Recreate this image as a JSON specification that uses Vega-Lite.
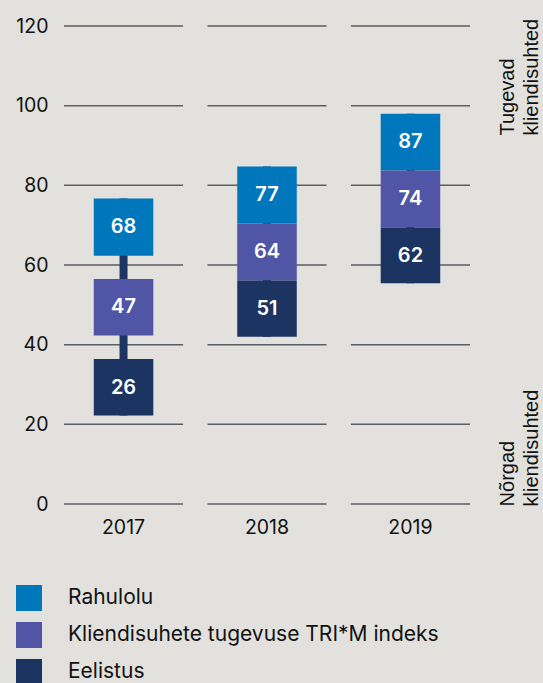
{
  "$schema": "https://vega.github.io/schema/vega-lite/v6.json",
  "autosize": "none",
  "width": 406,
  "height": 478,
  "padding": {"left": 64, "top": 26, "right": 73, "bottom": 179},
  "background": "#e2e1dd",
  "config": {
    "view": {"stroke": null},
    "font": "Inter",
    "axis": {"labelFont": "Inter", "labelFontSize": 19.5, "labelColor": "#111111", "domain": false, "ticks": false, "grid": false, "title": null}
  },
  "datasets": {
    "boxes": [
      {"year": "2017", "series": "Rahulolu", "value": 68, "lo": 62.3, "hi": 76.7},
      {"year": "2017", "series": "Kliendisuhete tugevuse TRI*M indeks", "value": 47, "lo": 42.3, "hi": 56.5},
      {"year": "2017", "series": "Eelistus", "value": 26, "lo": 22.2, "hi": 36.4},
      {"year": "2018", "series": "Rahulolu", "value": 77, "lo": 70.4, "hi": 84.7},
      {"year": "2018", "series": "Kliendisuhete tugevuse TRI*M indeks", "value": 64, "lo": 56.1, "hi": 70.4},
      {"year": "2018", "series": "Eelistus", "value": 51, "lo": 42.0, "hi": 56.1},
      {"year": "2019", "series": "Rahulolu", "value": 87, "lo": 83.7, "hi": 98.0},
      {"year": "2019", "series": "Kliendisuhete tugevuse TRI*M indeks", "value": 74, "lo": 69.4, "hi": 83.7},
      {"year": "2019", "series": "Eelistus", "value": 62, "lo": 55.4, "hi": 69.4}
    ],
    "grid": [
      {"year": "2017", "g": 0}, {"year": "2017", "g": 20}, {"year": "2017", "g": 40}, {"year": "2017", "g": 60}, {"year": "2017", "g": 80}, {"year": "2017", "g": 100}, {"year": "2017", "g": 120},
      {"year": "2018", "g": 0}, {"year": "2018", "g": 20}, {"year": "2018", "g": 40}, {"year": "2018", "g": 60}, {"year": "2018", "g": 80}, {"year": "2018", "g": 100}, {"year": "2018", "g": 120},
      {"year": "2019", "g": 0}, {"year": "2019", "g": 20}, {"year": "2019", "g": 40}, {"year": "2019", "g": 60}, {"year": "2019", "g": 80}, {"year": "2019", "g": 100}, {"year": "2019", "g": 120}
    ],
    "side": [
      {"year": "2019", "pos": 92.5, "label": ["Tugevad", "kliendisuhted"]},
      {"year": "2019", "pos": -0.6, "label": ["Nõrgad", "kliendisuhted"]}
    ]
  },
  "encoding": {
    "x": {"field": "year", "type": "ordinal", "scale": {"paddingInner": 0.17, "paddingOuter": 0}, "axis": {"labelAngle": 0, "labelPadding": 14}},
    "y": {"type": "quantitative", "scale": {"domain": [0, 120], "nice": false}, "axis": {"values": [0, 20, 40, 60, 80, 100, 120], "labelPadding": 16}}
  },
  "layer": [
    {
      "data": {"name": "grid"},
      "mark": {"type": "bar", "fill": null, "stroke": "#5a5e65", "strokeWidth": 1.5},
      "encoding": {
        "y": {"field": "g", "type": "quantitative"},
        "y2": {"field": "g"}
      }
    },
    {
      "data": {"name": "boxes"},
      "transform": [{"aggregate": [{"op": "min", "field": "lo", "as": "ymin"}, {"op": "max", "field": "hi", "as": "ymax"}], "groupby": ["year"]}],
      "mark": {"type": "rule", "color": "#1b3461", "strokeWidth": 8},
      "encoding": {
        "y": {"field": "ymin", "type": "quantitative"},
        "y2": {"field": "ymax"}
      }
    },
    {
      "data": {"name": "boxes"},
      "mark": {"type": "bar", "width": {"band": 0.5}},
      "encoding": {
        "y": {"field": "lo", "type": "quantitative"},
        "y2": {"field": "hi"},
        "color": {
          "field": "series", "type": "nominal",
          "scale": {"domain": ["Rahulolu", "Kliendisuhete tugevuse TRI*M indeks", "Eelistus"], "range": ["#0077bd", "#5056a5", "#1b3461"]},
          "legend": {
            "title": null, "orient": "none", "legendX": -48, "legendY": 559, "direction": "vertical",
            "symbolType": "square", "symbolSize": 676, "symbolStrokeWidth": 0, "symbolOpacity": 1,
            "labelFont": "Inter", "labelFontSize": 21, "labelColor": "#111111", "labelOffset": 26, "rowPadding": 11, "labelLimit": 500
          }
        }
      }
    },
    {
      "data": {"name": "boxes"},
      "mark": {"type": "text", "color": "white", "fontWeight": 600, "fontSize": 20, "baseline": "middle", "dy": 28.5},
      "encoding": {
        "y": {"field": "hi", "type": "quantitative"},
        "text": {"field": "value", "type": "quantitative"}
      }
    },
    {
      "data": {"name": "side"},
      "mark": {"type": "text", "font": "Liberation Sans", "fontSize": 20, "lineHeight": 24, "angle": 270, "align": "left", "baseline": "alphabetic", "dy": 44, "color": "#111111"},
      "encoding": {
        "x": {"field": "year", "type": "ordinal", "bandPosition": 1},
        "y": {"field": "pos", "type": "quantitative"},
        "text": {"field": "label"}
      }
    }
  ]
}
